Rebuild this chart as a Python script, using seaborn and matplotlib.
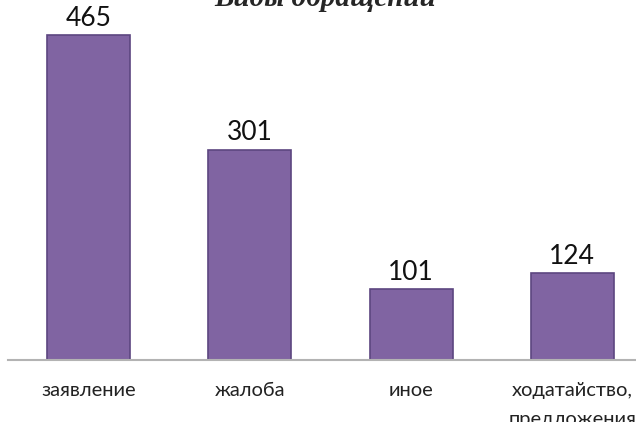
import pandas as pd
import matplotlib.pyplot as plt
import seaborn as sns

categories = ['заявление', 'жалоба', 'иное', 'ходатайство,\nпредложения']
values = [465, 301, 101, 124]
title = 'Виды обращений'

sns.set_style('white')
plt.rcParams['font.family'] = ['Lato', 'DejaVu Sans']

df = pd.DataFrame({'cat': categories, 'val': values})

fig = plt.figure(figsize=(6.36, 4.22), dpi=100)
# axes runs past the right edge, like the cropped original
ax = fig.add_axes([8 / 636, 62 / 422, 645 / 636, 349.5 / 422])
sns.barplot(data=df, x='cat', y='val', color='#8064A2', saturation=1,
            width=0.515, edgecolor='#5c4680', linewidth=1.2, ax=ax)

ax.set_xlim(-0.5, 3.5)
ax.set_ylim(0, 500)
ax.set_xlabel('')
ax.set_ylabel('')
ax.set_yticks([])
for s in ['top', 'right', 'left']:
    ax.spines[s].set_visible(False)
ax.spines['bottom'].set_color('#b3b3b3')
ax.spines['bottom'].set_linewidth(1.5)
ax.tick_params(axis='x', length=0, pad=16, labelsize=14.5, colors='#222222')
for lbl in ax.get_xticklabels():
    lbl.set_linespacing(1.85)
    lbl.set_verticalalignment('top')

for i, v in enumerate(values):
    ax.text(i, v + 6, str(v), ha='center', va='bottom', fontsize=19, color='#111111')

fig.text(325 / 636, 1 - 6 / 422, title, ha='center', va='baseline',
         fontsize=21, fontweight='bold', fontstyle='italic',
         family=['Liberation Serif', 'DejaVu Serif'])

fig.savefig('out.png', dpi=100)
